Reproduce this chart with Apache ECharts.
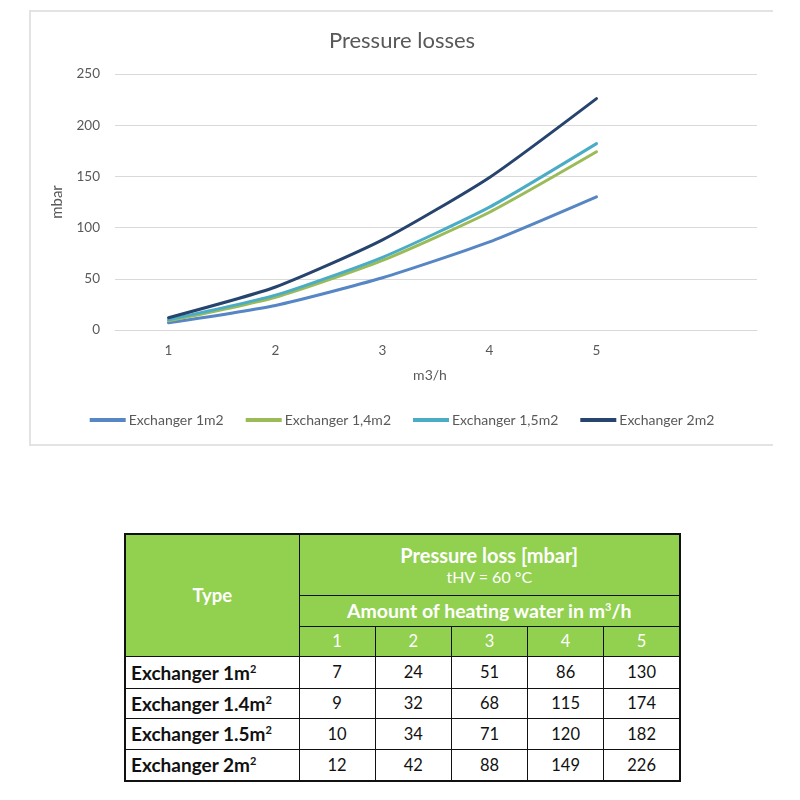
<!DOCTYPE html>
<html>
<head>
  <meta charset="utf-8">
  <title>Pressure losses</title>
  <script src="https://cdn.jsdelivr.net/npm/echarts@6/dist/echarts.min.js"></script>
  <style>
    html, body { margin: 0; padding: 0; background: #fff; width: 800px; height: 800px; }
    body { position: relative; font-family: Lato, "Open Sans", sans-serif; }
    #main {
      position: absolute; left: 29px; top: 10px; width: 744px; height: 436px;
      border: 2px solid #e3e3e3; border-right: none; box-sizing: border-box;
    }
    #tbl {
      position: absolute; left: 124px; top: 533px; width: 557px;
      border-collapse: collapse; border: 2px solid #111; table-layout: fixed;
    }
    #tbl td { border: 1px solid #111; padding: 0; text-align: center; font-size: 16.5px; color: #111; }
    #tbl .hd { background: #92d050; color: #fff; }
    #tbl .b { font-weight: bold; }
    #tbl .lbl { text-align: left; padding-left: 5px; font-weight: bold; font-size: 19px; }
    #tbl sup { font-size: 11px; line-height: 0; }
  </style>
</head>
<body>
  <div id="main"></div>
  <table id="tbl"></table>
  <script>
    // flow in m3/h
    var flows = ['1', '2', '3', '4', '5'];
    var seriesNames = ['Exchanger 1m2', 'Exchanger 1,4m2', 'Exchanger 1,5m2', 'Exchanger 2m2'];
    var tableTypes = ['Exchanger 1m<sup>2</sup>', 'Exchanger 1.4m<sup>2</sup>', 'Exchanger 1.5m<sup>2</sup>', 'Exchanger 2m<sup>2</sup>'];
    var ex1 = [7, 24, 51, 86, 130];
    var ex14 = [9, 32, 68, 115, 174];
    var ex15 = [10, 34, 71, 120, 182];
    var ex2 = [12, 42, 88, 149, 226];
    var colors = ['#5686c4', '#9bbb59', '#4bacc6', '#26446e'];

    var allValues = [ex1, ex14, ex15, ex2];
    var grey = '#595959';

    var myChart = echarts.init(document.getElementById('main'));
    myChart.setOption({
      animation: false,
      color: colors,
      textStyle: { fontFamily: 'Lato' },
      title: {
        text: 'Pressure losses', left: 'center', top: 13,
        textStyle: { fontSize: 22, fontWeight: 'normal', color: grey }
      },
      legend: {
        bottom: 12, left: 'center',
        icon: 'rect', itemWidth: 36, itemHeight: 4, itemGap: 22,
        textStyle: { fontSize: 14, color: grey, padding: [0, 0, 0, -2] },
        data: seriesNames
      },
      grid: { left: 84, right: 16, top: 62, bottom: 114 },
      xAxis: {
        type: 'category',
        data: flows.concat(['']),
        name: 'm3/h', nameLocation: 'middle', nameGap: 38,
        nameTextStyle: { fontSize: 14, color: grey, padding: [0, 12, 0, 0] },
        axisLine: { lineStyle: { color: '#d9d9d9', width: 1 } },
        axisTick: { show: false },
        axisLabel: { fontSize: 13.5, color: grey, margin: 14 }
      },
      yAxis: {
        type: 'value', min: 0, max: 250, interval: 50,
        name: 'mbar', nameLocation: 'middle', nameGap: 50,
        nameTextStyle: { fontSize: 15, color: grey },
        axisLine: { show: false },
        axisTick: { show: false },
        axisLabel: { fontSize: 13.5, color: grey, margin: 15 },
        splitLine: { lineStyle: { color: '#d9d9d9', width: 1 } }
      },
      series: seriesNames.map(function (n, i) {
        return {
          name: n, type: 'line', data: allValues[i],
          symbol: 'none', smooth: 0.2,
          lineStyle: { width: 3, cap: 'round' }
        };
      })
    });

    // table
    var rows = [];
    rows.push('<colgroup><col style="width:174px">' + flows.map(function () { return '<col>'; }).join('') + '</colgroup>');
    rows.push('<tr style="height:61px"><td class="hd b" rowspan="3" style="font-size:18.5px">Type</td>' +
      '<td class="hd" colspan="5"><div class="b" style="font-size:20px;line-height:24px">Pressure loss [mbar]</div><div style="font-size:16px;line-height:20px">tHV = 60 °C</div></td></tr>');
    rows.push('<tr style="height:31px"><td class="hd b" colspan="5" style="font-size:19.5px">Amount of heating water in m<sup>3</sup>/h</td></tr>');
    rows.push('<tr style="height:30px">' + flows.map(function (f) { return '<td class="hd">' + f + '</td>'; }).join('') + '</tr>');
    var hs = [32, 30, 31, 32];
    tableTypes.forEach(function (t, i) {
      rows.push('<tr style="height:' + hs[i] + 'px"><td class="lbl">' + t + '</td>' +
        allValues[i].map(function (v) { return '<td>' + v + '</td>'; }).join('') + '</tr>');
    });
    document.getElementById('tbl').innerHTML = rows.join('');
  </script>
</body>
</html>
